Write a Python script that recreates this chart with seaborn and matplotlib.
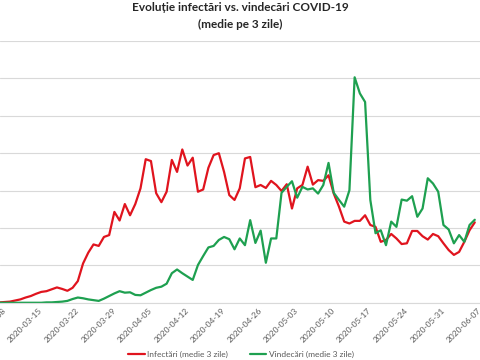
import pandas as pd
import seaborn as sns
import matplotlib.pyplot as plt
import matplotlib.dates as mdates

# date of first value, one value per day
start_date = "2020-03-07"

# 3-day average of new infections
infectari = [1, 2, 3, 6, 9, 14, 18, 24, 29, 31, 36, 41, 37, 32, 40, 58,
             105, 134, 156, 152, 176, 181, 243, 220, 264, 234, 264, 306, 384, 379, 293, 269,
             297, 382, 350, 410, 367, 388, 297, 303, 361, 395, 400, 350, 288, 275, 306, 386,
             390, 309, 315, 307, 326, 315, 299, 317, 252, 306, 315, 364, 316, 328, 326, 341,
             292, 257, 217, 212, 219, 219, 234, 208, 203, 163, 168, 184, 172, 157, 159, 192,
             192, 178, 169, 184, 178, 159, 141, 128, 136, 163, 194, 215]

# 3-day average of recoveries
vindecari = [0, 0, 0, 0, 0, 0, 0, 0, 0, 1, 1, 2, 3, 5, 10, 14,
             12, 9, 7, 5, 11, 18, 25, 31, 27, 28, 21, 20, 27, 34, 40, 43,
             51, 79, 89, 79, 70, 61, 101, 125, 148, 152, 168, 176, 170, 143, 172, 154,
             221, 160, 193, 107, 172, 172, 294, 310, 325, 281, 310, 303, 306, 292, 315, 374,
             294, 275, 257, 301, 603, 560, 537, 275, 186, 194, 154, 217, 203, 276, 273, 285,
             230, 252, 333, 319, 297, 208, 196, 159, 181, 163, 208, 222]

serie_names = ["Infectări (medie 3 zile)", "Vindecări (medie 3 zile)"]
colors = ["#e0141e", "#1ea050"]

dates = pd.date_range(start_date, periods=len(infectari), freq="D")
df = pd.concat([
    pd.DataFrame({"data": dates, "valoare": infectari, "serie": serie_names[0]}),
    pd.DataFrame({"data": dates, "valoare": vindecari, "serie": serie_names[1]}),
])

sns.set_style("white")
plt.rcParams['font.family'] = ['Lato', 'DejaVu Sans']

fig = plt.figure(figsize=(4.8, 3.6), dpi=100)
# plot area is wider than the picture (chart was cropped)
ax = fig.add_axes([0, 0.159, 1, 0.727])

sns.lineplot(data=df, x="data", y="valoare", hue="serie", palette=colors,
             linewidth=1.6, legend=False, ax=ax)

ref = pd.Timestamp("2020-03-15")
ax.set_xlim(ref - pd.Timedelta(days=7.9), ref + pd.Timedelta(days=82.3))
ax.set_ylim(0, 700)
ax.set_yticks(range(0, 701, 100))
ax.set_yticklabels([])
ax.tick_params(axis="y", length=0)
ax.grid(axis="y", color="#d9d9d9", linewidth=0.8)
ax.set_axisbelow(True)

ticks = pd.date_range("2020-03-08", "2020-06-07", freq="7D")
ax.set_xticks(ticks)
ax.xaxis.set_major_formatter(mdates.DateFormatter("%Y-%m-%d"))
ax.tick_params(axis="x", length=3, color="#bfbfbf", labelsize=6, labelcolor="#595959", pad=1.5)
for lbl in ax.get_xticklabels():
    lbl.set_rotation(45)
    lbl.set_ha("right")
    lbl.set_va("center")
    lbl.set_rotation_mode("anchor")

ax.set_xlabel("")
ax.set_ylabel("")
for side in ["top", "left", "right"]:
    ax.spines[side].set_visible(False)
ax.spines["bottom"].set_color("#d9d9d9")
ax.spines["bottom"].set_linewidth(0.8)

fig.text(0.5, 1 - 7.5 / 360, "Evoluție infectări vs. vindecări COVID-19",
         ha="center", va="center", fontsize=8.5, fontweight="bold", color="#262626")
fig.text(0.5, 1 - 24 / 360, "(medie pe 3 zile)",
         ha="center", va="center", fontsize=8.5, fontweight="bold", color="#262626")

fig.legend(handles=ax.get_lines()[:2], labels=serie_names, loc="center",
           bbox_to_anchor=(0.502, 0.016), ncol=2, frameon=False, fontsize=6,
           labelcolor="#595959", handlelength=2.0, handletextpad=0.3, columnspacing=2.6)

fig.savefig("out.png", dpi=100)
